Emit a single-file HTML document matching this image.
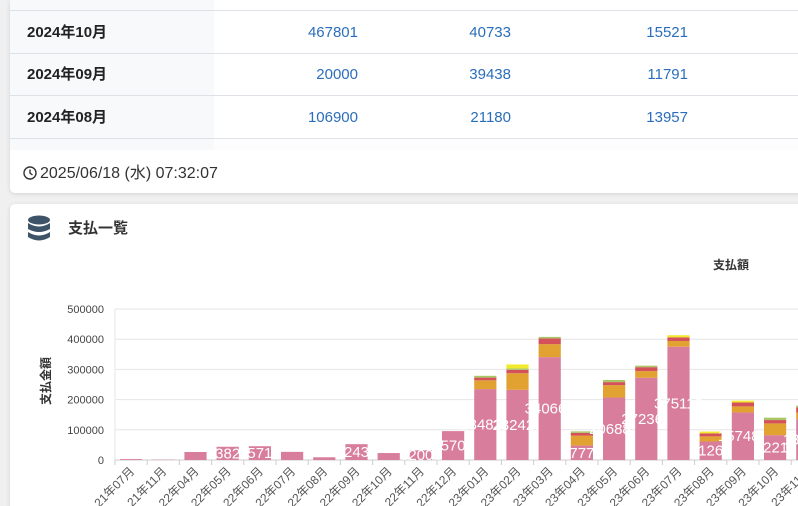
<!DOCTYPE html>
<html><head><meta charset="utf-8">
<style>
body{margin:0;width:798px;height:506px;overflow:hidden;background:#f0f0f0;font-family:"Liberation Sans","Noto Sans CJK JP",sans-serif;}
svg{display:block}
</style></head>
<body>
<svg width="798" height="506" viewBox="0 0 798 506" xmlns="http://www.w3.org/2000/svg" font-family="Liberation Sans, Noto Sans CJK JP, sans-serif">
  <defs>
    <filter id="sh" x="-5%" y="-10%" width="110%" height="130%"><feDropShadow dx="0" dy="1" stdDeviation="2" flood-color="#000" flood-opacity="0.12"/></filter>
    <clipPath id="plotclip"><rect x="0" y="280" width="798" height="226"/></clipPath>
  </defs>
  <rect x="0" y="0" width="798" height="506" fill="#f0f0f0"/>
  <!-- top card -->
  <g>
    <path d="M10,0 H810 V187 Q810,193 804,193 H16 Q10,193 10,187 Z" fill="#fff" filter="url(#sh)"/>
    <rect x="10" y="0" width="204" height="150" fill="#f8f9fa"/>
    <rect x="214" y="138" width="600" height="12" fill="#fdfdfd"/>
    <g stroke="#dee2e6" stroke-width="1">
      <line x1="10" y1="10.5" x2="798" y2="10.5"/>
      <line x1="10" y1="53.5" x2="798" y2="53.5"/>
      <line x1="10" y1="95.5" x2="798" y2="95.5"/>
      <line x1="10" y1="138.5" x2="798" y2="138.5"/>
    </g>
    <g font-size="15" font-weight="bold" fill="#222">
      <text x="27" y="37">2024年10月</text>
      <text x="27" y="79">2024年09月</text>
      <text x="27" y="122">2024年08月</text>
    </g>
    <g font-size="15" fill="#2a6ebb" text-anchor="end">
      <text x="358" y="37">467801</text>
      <text x="511" y="37">40733</text>
      <text x="688" y="37">15521</text>
      <text x="358" y="79">20000</text>
      <text x="511" y="79">39438</text>
      <text x="688" y="79">11791</text>
      <text x="358" y="122">106900</text>
      <text x="511" y="122">21180</text>
      <text x="688" y="122">13957</text>
    </g>
    <g fill="none" stroke="#333" stroke-width="1.4">
      <circle cx="30" cy="173" r="6"/><path d="M30,169.5 V173 L32.5,175"/>
    </g>
    <text x="40" y="178" font-size="16" fill="#333">2025/06/18 (水) 07:32:07</text>
  </g>
  <!-- second card -->
  <g>
    <path d="M16,204 H810 V520 H10 V210 Q10,204 16,204 Z" fill="#fff" filter="url(#sh)"/>
    <g fill="#3d5468">
      <ellipse cx="39" cy="220" rx="11" ry="4.5"/>
      <path d="M28,223 Q39,230 50,223 V229 Q39,235 28,229 Z"/>
      <path d="M28,232 Q39,239 50,232 V237 Q39,244 28,237 Z"/>
    </g>
    <text x="68" y="233" font-size="15" font-weight="bold" fill="#333">支払一覧</text>
    <text x="713" y="269" font-size="12" font-weight="bold" fill="#333">支払額</text>
    <text transform="translate(50,381) rotate(-90)" text-anchor="middle" font-size="12" font-weight="bold" fill="#333">支払金額</text>
    <g id="chart" clip-path="url(#plotclip)"></g>
  </g>
</svg>
<script>
const categories=["21年07月","21年11月","22年04月","22年05月","22年06月","22年07月","22年08月","22年09月","22年10月","22年11月","22年12月","23年01月","23年02月","23年03月","23年04月","23年05月","23年06月","23年07月","23年08月","23年09月","23年10月","23年11月"];
const seriesMain=[3000,1000,26500,43827,45714,27000,9000,52436,23000,32000,95704,234822,232425,340660,47777,206885,272365,375110,61262,157486,82211,135117];
const seriesOrange=[0,0,0,0,0,0,0,0,0,0,0,29000,55000,43000,33000,41000,22000,19000,17000,20000,39000,22000];
const seriesRed=[0,0,0,0,0,0,0,0,0,0,0,9000,11000,19000,9000,10000,13000,12000,10000,13000,11000,17000];
const seriesGreen=[0,0,0,0,0,0,0,0,0,0,0,6000,5000,5000,5000,7000,5000,0,0,0,8000,6000];
const seriesYellow=[0,0,0,0,0,0,0,0,0,0,0,0,13000,0,0,0,0,7000,6000,6000,0,0];
const yTicks=[0,100000,200000,300000,400000,500000];
const NS="http://www.w3.org/2000/svg";
const g=document.getElementById('chart');
const left=115,slot=32.2,baseY=460,topY=309,yMax=500000;
const y=v=>baseY-(v/yMax)*(baseY-topY);
const x=i=>left+slot*i;
function mk(t,a){const e=document.createElementNS(NS,t);for(const k in a)e.setAttribute(k,a[k]);g.appendChild(e);return e;}
yTicks.forEach(t=>{
  const l=mk('line',{x1:left,x2:800,y1:y(t),y2:y(t),stroke:'#e6e6e6','stroke-width':1});
  
  
  const tx=mk('text',{x:104,y:y(t)+4,'text-anchor':'end','font-size':11,fill:'#444'});
  tx.textContent=t;
  
  
});
mk('line',{x1:left,x2:left,y1:topY,y2:baseY,stroke:'#e6e6e6'});
mk('line',{x1:left,x2:800,y1:baseY,y2:baseY,stroke:'#ccc'});
const stacks=[[seriesMain,'#d87e9c'],[seriesOrange,'#e2a232'],[seriesRed,'#d4505a'],[seriesGreen,'#a9c764'],[seriesYellow,'#f2ea2c']];
categories.forEach((c,i)=>{
  mk('line',{x1:x(i),x2:x(i),y1:baseY,y2:baseY+5,stroke:'#ccc'});
  let acc=0;
  stacks.forEach(([arr,col],si)=>{
    const v=arr[i];if(!v)return;
    const r=mk('rect',{x:x(i)+5,width:slot-10,y:y(acc+v),height:y(acc)-y(acc+v),fill:col});
    
    
    acc+=v;
  });
  const cy=(y(0)+y(seriesMain[i]))/2;
  if(seriesMain[i]>30000){
    const lb=mk('text',{x:x(i)+slot/2,y:cy+5,'text-anchor':'middle','font-size':15,fill:'#fff'});
    lb.textContent=seriesMain[i];
    
    
  }
  const tl=mk('text',{x:x(i)+slot/2+4,y:baseY+12,'text-anchor':'end','font-size':12,fill:'#555',transform:`rotate(-45 ${x(i)+slot/2+4} ${baseY+12})`});
  tl.textContent=c;
  
  
});
</script>
</body></html>
